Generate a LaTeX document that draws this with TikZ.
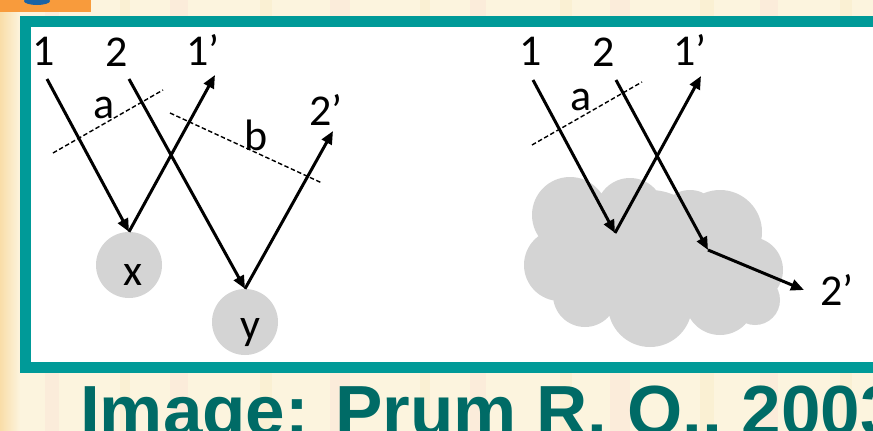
\documentclass[tikz,border=0pt]{standalone}
\usepackage{fontspec}
\setmainfont{Carlito}
\newfontfamily\capfont{Liberation Sans}
\usetikzlibrary{arrows.meta}
\definecolor{teal1}{HTML}{009A98}
\definecolor{teal2}{HTML}{006B66}
\definecolor{cream}{HTML}{FCF4DE}
\definecolor{orng}{HTML}{F89B3C}
\definecolor{blu}{HTML}{1A63A5}
\definecolor{grayfill}{HTML}{D4D4D4}
\definecolor{pinkish}{HTML}{FAE3D6}
\definecolor{yellowish}{HTML}{F8EDC6}
\definecolor{orangish}{HTML}{F9DDA8}
\begin{document}
\begin{tikzpicture}[x=1pt,y=-1pt,
  ray/.style={line width=3pt,-{Triangle[length=13pt,width=11pt]}},
  dashln/.style={line width=1.4pt,dash pattern=on 4.5pt off 2.5pt},
  lbl/.style={font=\fontsize{44}{44}\selectfont,anchor=base west,inner sep=0pt},
  ctr/.style={font=\fontsize{44}{44}\selectfont,anchor=base,inner sep=0pt},
  ball/.style={circle,fill=grayfill,minimum size=66pt,inner sep=0pt}]
\useasboundingbox (0,0) rectangle (873,431);
% background
\fill[cream] (0,0) rectangle (873,431);
\foreach \x/\w/\c in {8/10/yellowish,45/14/pinkish,120/10/yellowish,170/18/pinkish,260/12/yellowish,330/20/pinkish,420/10/yellowish,470/16/pinkish,560/12/yellowish,610/20/pinkish,700/14/yellowish,760/18/pinkish,840/12/yellowish}
  \fill[\c,opacity=0.45] (\x,0) rectangle ++(\w,431);
\fill[left color=orangish,right color=cream] (0,0) rectangle (20,431);
% orange tab
\fill[orng] (0,0) rectangle (91,12);
\fill[blu] (37,1) ellipse [x radius=13pt,y radius=4pt];
% frame
\fill[teal1] (20,16) rectangle (880,373);
\fill[white] (31,27) rectangle (880,362);
% ---------- left diagram ----------
\node[ball] (xc) at (129,265) {};
\node[ball] (yc) at (245,322) {};
\node[ctr] (xl) at (133,285) {x};
\node[ctr] (yl) at (250,339) {y};
\coordinate (s1) at (47,79);
\coordinate (s2) at (129,79);
\coordinate (e1) at (215,75);
\coordinate (e2) at (333,131);
\coordinate (da1) at (53,153);
\coordinate (da2) at (163,90);
\coordinate (db1) at (170,113);
\coordinate (db2) at (322,183);
\draw[dashln] (da1) -- (da2);
\draw[dashln] (db1) -- (db2);
\draw[ray] (s1) -- (xc.north);
\draw[ray] (xc.north) -- (e1);
\draw[ray] (s2) -- (yc.north);
\draw[ray] (yc.north) -- (e2);
\node[lbl] (l1) at (32,65) {1};
\node[lbl] (l2) at (105,66) {2};
\node[lbl] (l1p) at (186,65) {1’};
\node[lbl] (la) at (93,118) {a};
\node[lbl] (lb) at (244,150) {b};
\node[lbl] (l2p) at (309,125) {2’};
% ---------- right diagram ----------
\fill[grayfill]
  (570,215) circle (38) (630,212) circle (34) (720,232) circle (42)
  (750,270) circle (33) (560,265) circle (36) (585,295) circle (32)
  (650,305) circle (42) (720,300) circle (35) (650,250) circle (60)
  (755,300) circle (25) (690,220) circle (30);
\coordinate (r1) at (533,80);
\coordinate (r2) at (616,80);
\coordinate (h1) at (615,233);
\coordinate (h2) at (708,250);
\coordinate (o1) at (701,76);
\coordinate (o2) at (804,290);
\coordinate (ra1) at (532,145);
\coordinate (ra2) at (642,82);
\draw[dashln] (ra1) -- (ra2);
\draw[ray] (r1) -- (h1);
\draw[ray] (h1) -- (o1);
\draw[ray] (r2) -- (h2);
\draw[ray] (h2) -- (o2);
\node[lbl] (m1) at (519,65) {1};
\node[lbl] (m2) at (592,66) {2};
\node[lbl] (m1p) at (673,65) {1’};
\node[lbl] (ma) at (570,110) {a};
\node[lbl] (m2p) at (820,305) {2’};
% caption
\node[font=\capfont\bfseries\fontsize{71}{71}\selectfont,text=teal2,anchor=base west,inner sep=0pt] (cap) at (80,435) {Image: Prum R. O., 2003};
\end{tikzpicture}
\end{document}
